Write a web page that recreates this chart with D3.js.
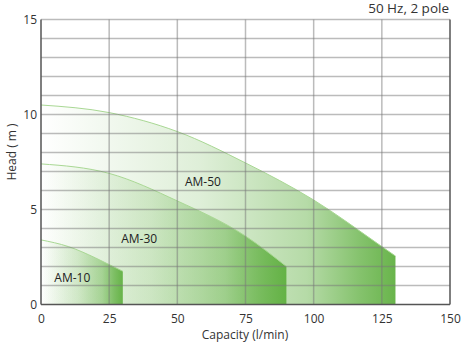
<!DOCTYPE html>
<html><head><meta charset="utf-8">
<script src="https://cdn.jsdelivr.net/npm/d3@7"></script>
<style>body{margin:0;background:#fff}svg{display:block}text{font-family:"Open Sans","Noto Sans",sans-serif}</style>
</head><body>
<script>
const title = "50 Hz, 2 pole";
const xLabel = "Capacity (l/min)";
const yLabel = "Head ( m )";
const xTicks = [0, 25, 50, 75, 100, 125, 150];
const yTicks = [0, 5, 10, 15];
const am50Cap = [0, 25, 50, 75, 100, 125, 130];
const am50Head = [10.5, 10.1, 9.1, 7.45, 5.5, 3.05, 2.55];
const am30Cap = [0, 25, 50, 75, 90];
const am30Head = [7.4, 6.9, 5.45, 3.6, 2.0];
const am10Cap = [0, 10, 20, 25, 30];
const am10Head = [3.4, 3.05, 2.45, 2.1, 1.75];
const seriesNames = ["AM-50", "AM-30", "AM-10"];
const labelPos = [[59.4, 6.45], [36, 3.45], [11.5, 1.4]];

const W = 466, H = 344;
const svg = d3.select("body").append("svg").attr("width", W).attr("height", H);
const x = d3.scaleLinear().domain([0, 150]).range([41, 450]);
const y = d3.scaleLinear().domain([0, 15]).range([304.5, 19.5]);

const series = [
  {name: seriesNames[0], cap: am50Cap, head: am50Head},
  {name: seriesNames[1], cap: am30Cap, head: am30Head},
  {name: seriesNames[2], cap: am10Cap, head: am10Head}
];

const defs = svg.append("defs");
const green = "#5cae3c";
series.forEach((s, i) => {
  const g = defs.append("linearGradient").attr("id", "g" + i)
    .attr("gradientUnits", "userSpaceOnUse")
    .attr("x1", x(0)).attr("x2", x(d3.max(s.cap))).attr("y1", 0).attr("y2", 0);
  [[0, 0], [0.45, 0.2], [0.75, 0.45], [0.9, 0.75], [1, 0.92]].forEach(([o, op]) =>
    g.append("stop").attr("offset", o).attr("stop-color", green).attr("stop-opacity", op));
});

const area = d3.area().x(d => x(d[0])).y0(y(0)).y1(d => y(d[1])).curve(d3.curveMonotoneX);
const line = d3.line().x(d => x(d[0])).y(d => y(d[1])).curve(d3.curveMonotoneX);

series.forEach((s, i) => {
  const pts = s.cap.map((c, j) => [c, s.head[j]]);
  svg.append("path").attr("d", area(pts)).attr("fill", `url(#g${i})`);
  svg.append("path").attr("d", line(pts)).attr("fill", "none")
    .attr("stroke", "#a9d894").attr("stroke-width", 1);
});

// grid
const grid = svg.append("g").attr("stroke", "rgba(120,120,120,0.5)").attr("stroke-width", 1.5);
d3.range(1, 16).forEach(v => grid.append("line")
  .attr("x1", x(0)).attr("x2", x(150)).attr("y1", y(v)).attr("y2", y(v)));
xTicks.slice(1, -1).forEach(v => grid.append("line")
  .attr("x1", x(v)).attr("x2", x(v)).attr("y1", y(0)).attr("y2", y(15)));

// axes lines
const ax = svg.append("g").attr("stroke", "#555").attr("stroke-width", 1.5);
ax.append("line").attr("x1", x(0)).attr("x2", x(0)).attr("y1", y(0)).attr("y2", y(15));
ax.append("line").attr("x1", x(0)).attr("x2", x(150)).attr("y1", y(0)).attr("y2", y(0));
ax.append("line").attr("x1", x(150)).attr("x2", x(150)).attr("y1", y(0)).attr("y2", y(15));

const xAxis = svg.append("g").attr("transform", `translate(0,${y(0)})`)
  .call(d3.axisBottom(x).tickValues(xTicks).tickSize(0).tickPadding(10));
xAxis.select(".domain").remove();
xAxis.selectAll("text").attr("font-size", 12).attr("fill", "#333").attr("font-family", "Open Sans");
const yAxis = svg.append("g").attr("transform", `translate(${x(0)},0)`)
  .call(d3.axisLeft(y).tickValues(yTicks).tickSize(0).tickPadding(4));
yAxis.select(".domain").remove();
yAxis.selectAll("text").attr("font-size", 12).attr("fill", "#333").attr("font-family", "Open Sans");

svg.append("text").attr("x", 245).attr("y", 339).attr("text-anchor", "middle")
  .attr("font-size", 12).attr("fill", "#333").text(xLabel);
svg.append("text").attr("transform", "translate(16,152) rotate(-90)").attr("text-anchor", "middle")
  .attr("font-size", 12).attr("fill", "#333").text(yLabel);
svg.append("text").attr("x", 449).attr("y", 13).attr("text-anchor", "end")
  .attr("font-size", 13.5).attr("fill", "#333").text(title);

series.forEach((s, i) => {
  svg.append("text").attr("x", x(labelPos[i][0])).attr("y", y(labelPos[i][1])).attr("dy", "0.35em")
    .attr("text-anchor", "middle").attr("font-size", 12).attr("fill", "#222").text(s.name);
});
</script>
</body></html>
